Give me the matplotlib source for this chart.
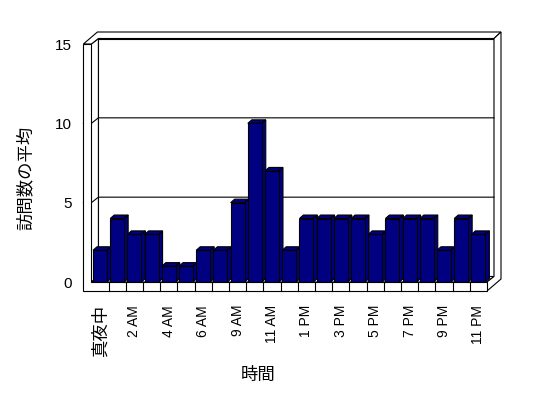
import numpy as np
import matplotlib
matplotlib.use("Agg")
import matplotlib.pyplot as plt
from matplotlib.patches import Polygon

plt.rcParams['font.family'] = ['Liberation Sans', 'Noto Sans CJK JP']

# average visits per hour (8 AM missing in the source)
hours = ['真夜中', '1 AM', '2 AM', '3 AM', '4 AM', '5 AM', '6 AM', '7 AM',
         '9 AM', '10 AM', '11 AM', '正午', '1 PM', '2 PM', '3 PM', '4 PM',
         '5 PM', '6 PM', '7 PM', '8 PM', '9 PM', '10 PM', '11 PM']
visits = [2, 4, 3, 3, 1, 1, 2, 2, 5, 10, 7, 2, 4, 4, 4, 4, 3, 4, 4, 4, 2, 4, 3]
yticks = [0, 5, 10, 15]

W, H = 548, 398
navy = '#000080'
lw = 0.8

fig = plt.figure(figsize=(W / 100, H / 100), dpi=100)
ax = fig.add_axes([91.4 / W, (H - 282) / H, (487 - 91.4) / W, 238 / H])
x0, x1 = -0.5, len(visits) - 0.5
y0, y1 = 0, 15
ax.set_xlim(x0, x1)
ax.set_ylim(y0, y1)
ax.set_frame_on(False)

# pixel -> data units, for the fake 3d depth
px = (x1 - x0) / (487 - 91.4)
py = (y1 - y0) / 238.0


def P(x, y, dx=0, dy=0):
    return (x + dx * px, y + dy * py)


def poly(pts, z, fc='white'):
    ax.add_patch(Polygon(pts, closed=True, facecolor=fc, edgecolor='black',
                         lw=lw, zorder=z, clip_on=False))


D = (7, 5.5)   # front plane -> back wall
B = (4, 3.5)   # bar depth

# back wall, left wall inner side, floor top
poly([P(x0, y0, *D), P(x1, y0, *D), P(x1, y1, *D), P(x0, y1, *D)], 0)
poly([P(x0, y0), P(x0, y1), P(x0, y1, *D), P(x0, y0, *D)], 0)
poly([P(x0, y0), P(x1, y0), P(x1, y0, *D), P(x0, y0, *D)], 0)
# top edge of walls
poly([P(x0, y1, -8, 0), P(x0, y1), P(x0, y1, *D), P(x1, y1, *D),
      P(x1, y1, 14, 12), P(x0, y1, 6, 12)], 1)
# right side
poly([P(x1, y1, *D), P(x1, y1, 14, 12), P(x1, y0, 14, 3), P(x1, y0, 0, -9),
      P(x1, y0), P(x1, y0, *D)], 1)

# gridlines
for v in yticks[1:-1]:
    xs, ys = zip(P(x0, v, -8, 0), P(x0, v), P(x0, v, *D), P(x1, v, *D))
    ax.plot(xs, ys, color='black', lw=lw, zorder=1, clip_on=False)

# bars
idx = np.arange(len(visits))
w = 0.81
for i, v in zip(idx, visits):
    xl, xr = i - w / 2, i + w / 2
    poly([P(xl, v), P(xr, v), P(xr, v, *B), P(xl, v, *B)], 3, navy)
    poly([P(xr, 0), P(xr, v), P(xr, v, *B), P(xr, 0, *B)], 3, navy)
ax.bar(idx, visits, width=w, color=navy, edgecolor='black', lw=lw, zorder=4)

# front faces of left wall and floor
poly([P(x0, y1, -8, 0), P(x0, y1), P(x0, y0), P(x1, y0), P(x1, y0, 0, -9),
      P(x0, y0, -8, -9)], 5)
for k in range(1, len(visits)):
    xs, ys = zip(P(x0 + k, 0), P(x0 + k, 0, 0, -9))
    ax.plot(xs, ys, color='black', lw=lw, zorder=6, clip_on=False)

ax.set_xticks(idx[::2])
ax.set_xticklabels(hours[::2], rotation=90, fontsize=10)
ax.get_xticklabels()[0].set_fontsize(12.5)
ax.set_yticks(yticks)
ax.set_yticklabels([str(t) for t in yticks], fontsize=11)
ax.tick_params(axis='x', length=0, pad=16.5)
ax.tick_params(axis='y', length=0, pad=14)

fig.text(258 / W, 1 - 375 / H, '時間', ha='center', va='center', fontsize=12.5)
fig.text(25 / W, 1 - 178 / H, '訪問数の平均', ha='center', va='center',
         rotation=90, fontsize=12.5)

fig.savefig('out.png', dpi=100)
